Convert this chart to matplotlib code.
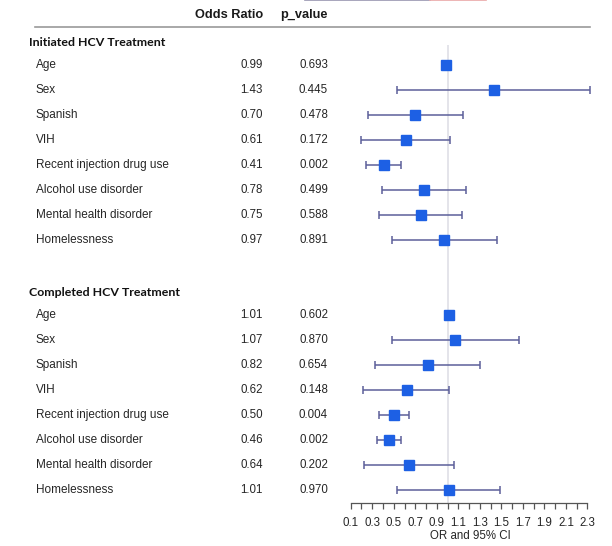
import matplotlib.pyplot as plt
import numpy as np
from matplotlib.transforms import blended_transform_factory

plt.rcParams['font.family'] = ['Liberation Sans', 'DejaVu Sans']

variables = ["Age", "Sex", "Spanish", "VIH", "Recent injection drug use",
             "Alcohol use disorder", "Mental health disorder", "Homelessness"]
groups = ["Initiated HCV Treatment", "Completed HCV Treatment"]

initiated_or = [0.99, 1.43, 0.70, 0.61, 0.41, 0.78, 0.75, 0.97]
initiated_p = [0.693, 0.445, 0.478, 0.172, 0.002, 0.499, 0.588, 0.891]
initiated_lo = [0.98, 0.53, 0.26, 0.20, 0.24, 0.39, 0.36, 0.48]
initiated_hi = [1.00, 2.32, 1.14, 1.02, 0.57, 1.17, 1.13, 1.46]

completed_or = [1.01, 1.07, 0.82, 0.62, 0.50, 0.46, 0.64, 1.01]
completed_p = [0.602, 0.870, 0.654, 0.148, 0.004, 0.002, 0.202, 0.970]
completed_lo = [1.00, 0.48, 0.33, 0.21, 0.36, 0.34, 0.22, 0.53]
completed_hi = [1.02, 1.66, 1.30, 1.01, 0.64, 0.57, 1.06, 1.49]

xtick_values = [0.1, 0.3, 0.5, 0.7, 0.9, 1.1, 1.3, 1.5, 1.7, 1.9, 2.1, 2.3]
xtick_labels = ["0.1", "0.3", "0.5", "0.7", "0.9", "1.1", "1.3", "1.5", "1.7", "1.9", "2.1", "2.3"]

W, H = 612, 546
fig = plt.figure(figsize=(W / 100, H / 100), dpi=100)

# forest panel: rows are 25 px apart, row 0 at y=65 px
ax_top, ax_bot = 45, 503
ax_left, ax_right = 340, 600
row0_px, row_step = 65, 25
ax = fig.add_axes([ax_left / W, (H - ax_bot) / H, (ax_right - ax_left) / W, (ax_bot - ax_top) / H])
ax.set_ylim((ax_bot - row0_px) / row_step, (ax_top - row0_px) / row_step)
ppu = 107.6  # pixels per OR unit
ax.set_xlim(0.1 - (350.7 - ax_left) / ppu, 0.1 + (ax_right - 350.7) / ppu)

ax.axvline(1.0, color='#dcdce4', lw=1.1, zorder=0)

blue = '#1d60e4'
bar_col = '#5c5f9a'
ink = '#262626'
txt = blended_transform_factory(fig.transFigure, ax.transData)

sets = [(initiated_or, initiated_p, initiated_lo, initiated_hi),
        (completed_or, completed_p, completed_lo, completed_hi)]
for g, (orv, pv, lo, hi) in enumerate(sets):
    y = np.arange(len(variables)) + 10 * g
    orv = np.array(orv)
    err = [orv - np.array(lo), np.array(hi) - orv]
    ax.errorbar(orv, y, xerr=err, fmt='none', ecolor=bar_col, elinewidth=1.1,
                capsize=2.6, capthick=1.1, zorder=2)
    ax.plot(orv, y, 's', ms=7.8, color=blue, mec=blue, zorder=3, clip_on=False)
    ax.text(29 / W, y[0] - 0.88, groups[g], transform=txt, fontsize=8.9,
            fontweight='bold', family=['Lato', 'DejaVu Sans'], color='#111111',
            va='center', ha='left')
    for i, name in enumerate(variables):
        ax.text(36 / W, y[i], name, transform=txt, fontsize=8.5, color=ink,
                va='center', ha='left')
        ax.text(263 / W, y[i], f"{orv[i]:.2f}", transform=txt, fontsize=8.3,
                color=ink, va='center', ha='right')
        ax.text(328 / W, y[i], f"{pv[i]:.3f}", transform=txt, fontsize=8.3,
                color=ink, va='center', ha='right')

# column headers and rule
ax.text(263 / W, -2.0, "Odds Ratio", transform=txt, fontsize=9.2, fontweight='bold',
        color='#1a1a1a', va='center', ha='right')
ax.text(328 / W, -2.0, "p_value", transform=txt, fontsize=9.2, fontweight='bold',
        color='#1a1a1a', va='center', ha='right')
ax.plot([35 / W, 590 / W], [-1.52, -1.52], transform=txt, color='#9a9a9a', lw=1.2,
        clip_on=False)

# partial bar along the top edge
fig.add_artist(plt.Line2D([305 / W, 430 / W], [0.9995, 0.9995], color='#9896b0', lw=1.2))
fig.add_artist(plt.Line2D([430 / W, 486 / W], [0.9995, 0.9995], color='#eaa8a8', lw=1.2))

for s in ['top', 'left', 'right']:
    ax.spines[s].set_visible(False)
ax.spines['bottom'].set_bounds(0.1, 2.3)
ax.spines['bottom'].set_color('#555555')
ax.spines['bottom'].set_linewidth(0.9)
ax.set_yticks([])
ax.set_xticks(xtick_values)
ax.set_xticklabels(xtick_labels)
ax.set_xticks(np.arange(0.2, 2.25, 0.2), minor=True)
ax.tick_params(axis='x', which='both', direction='out', length=4, width=0.9,
               color='#555555', labelsize=8.3, labelcolor=ink, pad=6)
ax.set_xlabel("OR and 95% CI", fontsize=8.3, color=ink, labelpad=1)
ax.patch.set_alpha(0)

fig.savefig('out.png', dpi=100)
